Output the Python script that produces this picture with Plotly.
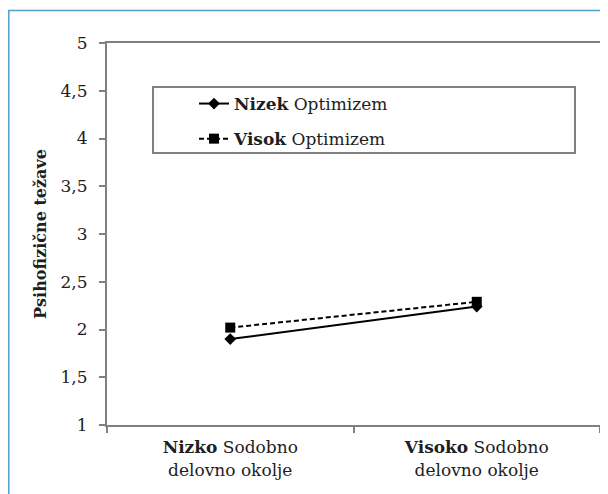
import plotly.graph_objects as go

categories = ["<b>Nizko</b> Sodobno<br>delovno okolje", "<b>Visoko</b> Sodobno<br>delovno okolje"]
nizek_values = [1.90, 2.24]
visok_values = [2.02, 2.29]
series_names = ["<b>Nizek</b> Optimizem", "<b>Visok</b> Optimizem"]
y_ticks = [1, 1.5, 2, 2.5, 3, 3.5, 4, 4.5, 5]
y_tick_labels = ["1", "1,5", "2", "2,5", "3", "3,5", "4", "4,5", "5"]

FONT = "DejaVu Serif"
TXT = "#1e1e1e"

fig = go.Figure()
fig.add_trace(go.Scatter(
    x=categories, y=nizek_values, name=series_names[0], mode="lines+markers",
    line=dict(color="black", width=2, dash="solid"),
    marker=dict(symbol="diamond", size=9, color="black"),
    legendgroup="a",
))
fig.add_trace(go.Scatter(
    x=categories, y=visok_values, name=series_names[1], mode="lines+markers",
    line=dict(color="black", width=2, dash="5px,3px"),
    marker=dict(symbol="square", size=10, color="black"),
    legendgroup="b",
))

W, H = 608, 494
# page is offset by the 8px body margin; figure coords = page coords - 8
L, R, T, B = 99, 16, 35, 77
pw, ph = W - L - R, H - T - B

def px(x):
    return (x - L) / pw

def py(y):
    return 1 - (y - T) / ph

shapes = [
    # outer light-blue frame
    dict(type="rect", xref="paper", yref="paper", x0=px(0.8), x1=px(640), y0=py(520), y1=py(2.5),
         line=dict(color="#4f9fc9", width=1.5), fillcolor="rgba(0,0,0,0)", layer="below"),
    # legend box
    dict(type="rect", xref="paper", yref="paper", x0=px(145), x1=px(567), y0=py(145), y1=py(79),
         line=dict(color="#808080", width=2), fillcolor="white", layer="above"),
]

fig.update_layout(
    width=W, height=H,
    margin=dict(l=L, r=R, t=T, b=B),
    paper_bgcolor="white", plot_bgcolor="white",
    font=dict(family=FONT, size=17, color=TXT),
    showlegend=True,
    legend=dict(
        x=px(186), y=py(78), xanchor="left", yanchor="top",
        bgcolor="rgba(0,0,0,0)", borderwidth=0,
        font=dict(family=FONT, size=17, color=TXT),
        traceorder="grouped", tracegroupgap=10,
    ),
    shapes=shapes,
    xaxis=dict(
        type="category", range=[-0.5, 1.5],
        showline=True, linecolor="#808080", linewidth=2, mirror=True,
        ticks="outside", tickson="boundaries", ticklen=6, tickcolor="#808080", tickwidth=1.5,
        showgrid=False, zeroline=False, ticklabelstandoff=6,
        tickfont=dict(family=FONT, size=17, color=TXT),
    ),
    yaxis=dict(
        range=[1, 5], tickvals=y_ticks, ticktext=y_tick_labels,
        showline=True, linecolor="#808080", linewidth=2, mirror=True,
        ticks="outside", ticklen=6, tickcolor="#808080", tickwidth=1.5,
        showgrid=False, zeroline=False, ticklabelstandoff=8,
        tickfont=dict(family=FONT, size=17, color=TXT),
        title=dict(text="<b>Psihofizične težave</b>", font=dict(family=FONT, size=16, color=TXT), standoff=10),
        automargin=False,
    ),
)

fig.write_html("out.html")
